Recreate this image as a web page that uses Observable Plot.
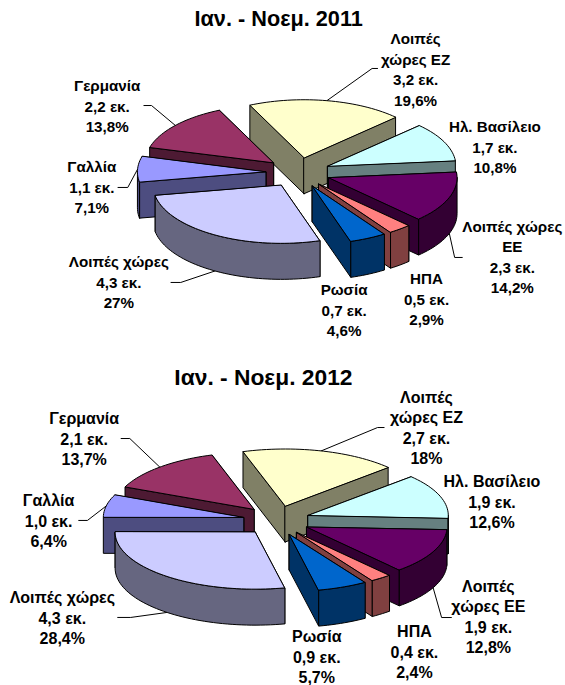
<!DOCTYPE html>
<html lang="el">
<head>
<meta charset="utf-8">
<style>html,body{margin:0;padding:0;background:#fff}</style>
<script src="https://cdn.jsdelivr.net/npm/d3@7"></script>
<script src="https://cdn.jsdelivr.net/npm/@observablehq/plot@0.6"></script>
</head>
<body>
<script>
// ---- data ----
const titles = ["Ιαν. - Νοεμ. 2011", "Ιαν. - Νοεμ. 2012"];
const names2011 = ["Λοιπές\nχώρες ΕΖ", "Ηλ. Βασίλειο", "Λοιπές χώρες\nΕΕ", "ΗΠΑ", "Ρωσία", "Λοιπές χώρες", "Γαλλία", "Γερμανία"];
const names2012 = ["Λοιπές\nχώρες ΕΖ", "Ηλ. Βασίλειο", "Λοιπές\nχώρες ΕΕ", "ΗΠΑ", "Ρωσία", "Λοιπές χώρες", "Γαλλία", "Γερμανία"];
const amounts2011 = ["3,2", "1,7", "2,3", "0,5", "0,7", "4,3", "1,1", "2,2"];
const amounts2012 = ["2,7", "1,9", "1,9", "0,4", "0,9", "4,3", "1,0", "2,1"];
const shares2011 = [19.6, 10.8, 14.2, 2.9, 4.6, 27, 7.1, 13.8];
const shares2012 = [18, 12.6, 12.8, 2.4, 5.7, 28.4, 6.4, 13.7];

// ---- styles ----
const topColors  = ["#FFFFCC", "#CCFFFF", "#660066", "#FF8080", "#0066CC", "#CCCCFF", "#9999FF", "#993366"];
const sideColors = ["#808066", "#668080", "#330033", "#804040", "#003366", "#666680", "#4D4D80", "#4D1A33"];

// ---- layout: pie shape and label placement relative to each slice's rim point ----
const shape2011 = {cx: 274, cy: 172, rx: 118, ry: 58, ex: 30, ey: 15, depth: 36, start: -115, titleDx: -18, titleDy: -153, font: 15.2, titleFont: 21.7};
const shape2012 = {cx: 254, cy: 520, rx: 129, ry: 57, ex: 31, ey: 15, depth: 36, start: -107.5, titleDx: -12, titleDy: -143, font: 16, titleFont: 22.8};
const labelOffsets2011 = [[81.6,-30.7],[46.9,5.9],[58,24],[24.5,34.4],[-22,36.2],[-88.5,11.5],[-42.1,18.2],[-62.7,-18.9]];
const labelOffsets2012 = [[96.9,-22.4],[48,6.6],[50.8,29.8],[30.8,38.5],[-23.8,34.4],[-96.4,6],[-53,15.5],[-69.6,-27.6]];
const leaders2011 = [[[41.6,-32.2],[46.6,-32.2]],null,[[4.9,24],[11.9,24]],null,null,[[-31.5,11.5],[-40.5,11.5]],[[-9,18.2],[-18,18.2]],[[-21.9,-19.9],[-28.9,-19.9]]];
const leaders2012 = [[[51.9,-23.4],[57.9,-23.4]],null,[[7.8,29.8],[16.8,29.8]],null,null,[[-33.4,5],[-45.4,5]],[[-17.3,14.5],[-25.3,14.5]],[[-27.6,-28.6],[-35.6,-28.6]]];
const labelShiftY = -1.5;

const rad = (a) => a * Math.PI / 180;

function buildPie(shape, names, amounts, shares, labelOffsets, leaders, key) {
  const {cx, cy, rx, ry, ex, ey, depth, start} = shape;
  const polys = [], labels = [], lines = [];
  let a = start;
  const slices = shares.map((s, i) => {
    const a0 = a, a1 = a + s * 3.6;
    a = a1;
    return {i, a0, a1, mid: (a0 + a1) / 2};
  });
  const addPoly = (id, color, pts) => pts.forEach(([x, y]) => polys.push({id, color, x, y}));
  for (const sl of slices) {
    const {i, a0, a1, mid} = sl;
    const ax = cx + ex * Math.cos(rad(mid));
    const ay = cy + ey * Math.sin(rad(mid));
    const rim = (t) => [ax + rx * Math.cos(rad(t)), ay + ry * Math.sin(rad(t))];
    const arc = (t0, t1) => {
      const n = Math.max(2, Math.ceil((t1 - t0) / 2));
      return d3.range(n + 1).map((k) => rim(t0 + (t1 - t0) * k / n));
    };
    sl.order = Math.sin(rad(mid));
    sl.draw = () => {
      const walls = [a0, a1].sort((p, q) => rim(p)[1] - rim(q)[1]);
      walls.forEach((t, k) => {
        const [rxp, ryp] = rim(t);
        addPoly(`${key}-${i}-w${k}`, sideColors[i], [[ax, ay], [rxp, ryp], [rxp, ryp + depth], [ax, ay + depth]]);
      });
      const f0 = Math.max(a0, 0), f1 = Math.min(a1, 180);
      if (f1 > f0) {
        const front = arc(f0, f1);
        addPoly(`${key}-${i}-o`, sideColors[i], [...front, ...front.slice().reverse().map(([x, y]) => [x, y + depth])]);
      }
      addPoly(`${key}-${i}-t`, topColors[i], [[ax, ay], ...arc(a0, a1)]);
    };
    const tip = rim(mid);
    if (Math.sin(rad(mid)) > 0) tip[1] += depth;
    const [ldx, ldy] = labelOffsets[i];
    const pct = String(shares[i]).replace(".", ",");
    labels.push({x: tip[0] + ldx, y: tip[1] + ldy + labelShiftY, text: `${names[i]}\n${amounts[i]} εκ.\n${pct}%`});
    if (leaders[i]) {
      lines.push({id: `${key}-l${i}`, x: tip[0], y: tip[1]});
      for (const [dx, dy] of leaders[i]) lines.push({id: `${key}-l${i}`, x: tip[0] + dx, y: tip[1] + dy});
    }
  }
  slices.slice().sort((p, q) => p.order - q.order).forEach((s) => s.draw());
  return {polys, labels, lines};
}

const pie11 = buildPie(shape2011, names2011, amounts2011, shares2011, labelOffsets2011, leaders2011, "a");
const pie12 = buildPie(shape2012, names2012, amounts2012, shares2012, labelOffsets2012, leaders2012, "b");
const font = "'Liberation Sans', Arial, sans-serif";

const chart = Plot.plot({
  width: 565, height: 685, margin: 0,
  style: {background: "#fff"},
  x: {domain: [0, 520], range: [0, 565], axis: null},
  y: {domain: [0, 685], range: [0, 685], axis: null},
  color: {type: "identity"},
  marks: [
    ...[[pie11, shape2011, titles[0]], [pie12, shape2012, titles[1]]].flatMap(([p, s, title]) => [
      Plot.line(p.lines, {x: "x", y: "y", z: "id", stroke: "#000", strokeWidth: 1}),
      Plot.line(p.polys, {x: "x", y: "y", z: "id", fill: "color", stroke: "#000", strokeWidth: 1, curve: "linear-closed", strokeLinejoin: "miter"}),
      Plot.text(p.labels, {x: "x", y: "y", text: "text", fontFamily: font, fontWeight: "bold", fontSize: s.font, lineHeight: 20.5 / s.font, fill: "#000", lineAnchor: "middle", textAnchor: "middle"}),
      Plot.text([title], {x: s.cx + s.titleDx, y: s.cy + s.titleDy, text: (d) => d, fontFamily: font, fontWeight: "bold", fontSize: s.titleFont, fill: "#000", lineAnchor: "middle", textAnchor: "middle"})
    ])
  ]
});
document.body.appendChild(chart);
</script>
</body>
</html>
